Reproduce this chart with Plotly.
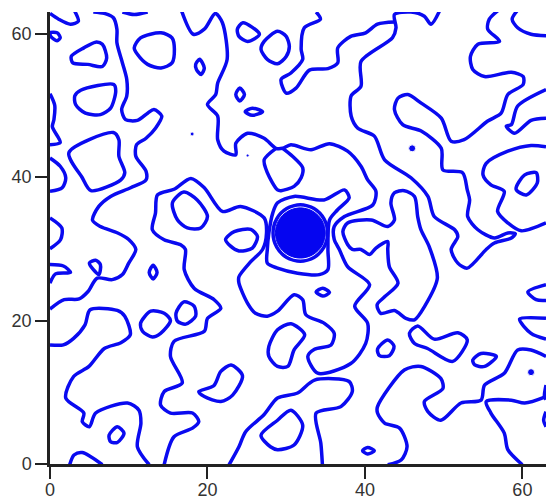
import plotly.graph_objects as go

BLUE = "#0a0af0"
top_left_hook = [(0,62.8),(1.1,62),(2.6,61.3),(3.6,61.7),(3.1,63.2)]
left_tiny_loop = [(0,60.1),(0.9,60.1),(1.3,59.4),(0.9,59),(0.1,59.6),(0,60.1)]
long_left = [(5.5,63),(6.9,62.8),(8.05,62.2),(8.5,60.6),(8.5,58.7),(9.2,55.9),(9.75,53.6),(9.75,51.3),(9.1,49.4),(9.6,48),(11.1,47.9),(12.4,48.9),(13.2,49.4),(14.2,48.5),(13.4,46.8),(12.2,45.4),(11,44.5),(10.9,42.9),(12.2,40.8),(12.2,39.6),(10.25,38.5),(7.7,37.3),(6.2,35.9),(5.4,34),(6.4,33.1),(8.6,32.2),(10,31.3),(10.9,29.9),(10,28),(9.2,26.4),(7.9,25.7),(6,25.9),(4.8,24),(3.7,23),(1.8,22.9),(0,21.6)]
loop_a = [(2.7,56.8),(2.9,55.9),(4.8,55.7),(6.65,55.4),(7.2,56.6),(6.65,58.5),(5.8,58.8),(4.3,58),(2.7,56.8)]
loop_b = [(10.7,58),(11.5,59.4),(14.1,60.1),(15.5,59.4),(15.8,57.8),(15.5,55.9),(14.1,55.2),(12.4,55.7),(11.1,57.1),(10.7,58)]
oval_c = [(19,56.4),(19.6,55.2),(19.2,54.3),(18.6,55),(18.5,55.7),(19,56.4)]
top_arc = [(9.2,63),(10.7,62.65),(12.4,63)]
path_b = [(29.55,44),(30.8,42.9),(32.1,41.3),(31.9,39.9),(31,38.7),(29.35,38.1),(28.9,38.2),(27.6,40.6),(27.2,42.4),(28.7,44)]
main_contour = [(16.7,63.2),(18.2,59.9),(19.6,60.6),(21,62.8),(21.9,61.5),(22.5,56.4),(21.3,53.1),(21.05,51.5),(20,50.1),(21.3,48.5),(21.3,45.2),(22.1,43.6),(23.6,43.1),(23.6,44.7),(25.1,46.1),(27.2,45.4),(28.7,44),(29.55,44),(30.6,44.5),(33.15,43.8),(35.5,44.65),(37.8,43.6),(39.5,41.5),(40.35,39.6),(41.4,38),(41,36.1),(37.4,34.5),(36.1,33.1),(36.1,31.3),(36.75,29.9),(37.8,27.5),(40.6,25),(38.7,22),(40.35,19.6),(40.1,16.8),(38.2,14),(34,12.65),(32.75,15),(33.6,16),(35.7,16.6),(36.1,18.2),(34.85,19.6),(32.5,20.8),(32.1,22.9),(31,23.6),(28.9,21.3),(27.6,20.6),(26.1,21),(25.1,22.4),(24,25.2),(24,26.1),(25.5,28.2),(27,29.9),(27.5,32.2),(27.2,34.3),(24.2,35.9),(21.9,35.2),(19.6,38.5),(17.9,39.8),(15.75,38.3),(13.65,37.5),(13.4,35),(13,32.65),(14.5,31.25),(16.6,30.55),(17.2,29.9),(17.05,27.1),(18.3,24.5),(20.85,22.9),(21.7,21.7),(20,20.3),(19.6,18.5),(15.75,17.1),(15.3,15),(16.8,11.3),(14.5,10.1),(14.05,8.2),(15.3,7.1),(18.1,7.1),(18.9,5.9),(18.1,5),(15.75,3.8),(14.5,-0.1)]
around_disc = [(28.9,36.4),(31,37.3),(34.8,36.8),(37.4,38.2),(38,37.1),(36.5,35.4),(35.5,34),(35.3,29.9),(35.3,27.1),(34.2,26.4),(31.45,26.6),(28.9,27.3),(27.6,28),(27.6,29.9),(27.8,32.2),(28.3,35),(28.9,36.4)]
right_of_disc = [(37.2,32.4),(37.8,33.6),(40.8,34),(42.9,33.1),(43.75,34),(43.3,36.4),(43.75,37.8),(45,38.1),(46.3,37.3),(46.7,34.5),(47.1,32.7),(48.2,30.2),(49.2,25.9),(47.6,22),(46.3,20.1),(45.2,20.3),(43.75,21.4),(42,21),(41.55,22.2),(42.5,23.3),(44.2,25.2),(43.1,27.5),(42.9,29.9),(42.9,31),(41.4,30.1),(40.6,29.2),(39.5,29.9),(38.4,29.9),(37.8,30.6),(37.2,32.4)]
upper_mid = [(33.8,63),(34.35,62),(32.3,60.8),(31.9,57.8),(32.1,56.4),(30.6,54.5),(29.35,53.6),(30,51.7),(31.25,52.4),(32.95,54.9),(35.3,55.1),(36.55,55.9),(36.55,58),(38.2,59.6),(40.1,60.1),(41.6,61.3),(43.75,61.6)]
loop_d = [(28.9,60.3),(30,59.6),(30.4,58.2),(30,56.8),(28.9,55.8),(27.6,56.4),(26.8,57.8),(27.2,58.9),(28.9,60.3)]
tri_e = [(23.8,60.6),(24.5,61.5),(26.6,59.9),(25.1,58.9),(24,59.6),(23.8,60.6)]
oval_f = [(24.1,52.4),(24.7,51.5),(24.1,50.6),(23.6,51.5),(24.1,52.4)]
oval_g = [(24.8,49.1),(25.7,49.6),(27,49.1),(25.7,48.6),(24.8,49.1)]
left_edge_a = [(0,51.6),(0.6,50),(0.5,48),(0.3,47),(1.3,44.8),(0,44.5)]
left_edge_b = [(0,42.65),(1.3,41.5),(2,39.9),(1.55,38.5),(0,38)]
left_edge_c = [(0,34.3),(1.5,32.9),(1.35,31.3),(0,30)]
rect_h = [(2.4,43.4),(8.05,46.2),(8.75,45.2),(8.75,42.9),(9.5,40.6),(9,39.6),(5.2,38.1),(4.1,39.9),(2.4,43.4)]
loop_i = [(3.15,51.3),(3.9,52.1),(8.1,52.9),(8.35,52),(7.7,49.6),(6.4,48.7),(4.5,48.9),(3.25,50.1),(3.15,51.3)]
oval_j = [(15.55,36.4),(17,37.9),(18.7,36.8),(20,34.5),(19.15,32.9),(17.45,32.9),(16.2,34),(15.55,36.4)]
oval_k = [(22.3,31.3),(23.4,32.4),(25.5,32.7),(26.35,31.7),(25.7,30.1),(24,29.7),(22.9,30.4),(22.3,31.3)]
right_long = [(49.5,63.2),(48.4,61.3),(47.55,62.4),(45.85,63),(43.75,62.65),(43.95,60.8),(43.5,59.4),(39.5,56.1),(39.5,52.65),(38.25,51.3),(38.25,48.5),(39.1,46.8),(41.2,45.7),(42.5,42.4),(45.85,39.9),(48,37.3),(48.8,34.5),(51.4,32.65),(51.8,31.7),(50.95,29.9),(51.8,28),(53,27.3),(55.4,29.9),(56.45,30.8),(58.6,31.5),(59.1,32.1),(58.15,32.2),(56.45,31.5),(54.35,32.65),(53.05,34.5),(53.3,36.8),(53,38.2),(52.4,40.6),(49.9,41),(49.7,44),(47.15,46.4),(44.8,47.3),(43.75,49.4),(44.2,51),(45.45,51.5),(47.15,50.3),(49.7,48.2),(50.95,45),(52.6,45.2),(55.6,47.8),(57.3,48.9),(58.15,51.5),(60.1,52.9),(60.1,54),(58.6,54.6),(55.2,54),(53.7,55),(53.4,56.8),(54.35,58.5),(57.1,58.9),(55.6,60.6),(55.8,62),(56.9,63.2)]
top_right_a = [(59.35,63.2),(58.7,62),(59.4,60.8),(61.1,59.9),(63,59.7)]
top_right_b = [(63,52.2),(59.4,49.9),(58.6,47.3),(57.95,47.1),(59,46.1),(61.1,47.9),(63,48.2)]
right_mid = [(63,44.2),(61.1,44.4),(58.15,43.6),(55.4,41.9),(55,40.3),(56,38.9),(57.7,38),(56.85,35.2),(58.15,33.6),(59.85,32.5),(63,33.6)]
oval_l = [(59.2,38.3),(60.3,40.3),(61.75,40.6),(61.9,39.2),(60.5,37.5),(59.2,38.3)]
left_low_a = [(0,27.8),(1.7,27.6),(2.6,26.7),(0.7,26.5),(0,25.2)]
loop_m = [(5,28),(5.8,28.4),(6.4,27.8),(6.2,26.4),(5,28)]
oval_n = [(13.1,27.7),(13.6,26.7),(13.1,25.8),(12.6,26.7),(13.1,27.7)]
low_left = [(0,16.6),(1.7,16.6),(3,17.5),(4.45,19.4),(5.1,21.5),(8.55,21.4),(9.5,20.6),(10.2,18),(9,16.9),(6.9,16.1),(4.95,13.6),(3,12.2),(2,9.2),(4.3,7.1),(4.1,5.9),(5,5.2),(5.8,7.1),(9.85,8.5),(11.3,7.5),(11.55,5.7),(11.1,2.4),(12.6,-0.1)]
oval_o = [(11.5,19.6),(12.8,21.3),(14.5,21),(15.3,20),(14.05,18.2),(13,17.7),(11.75,18.5),(11.5,19.6)]
oval_p = [(16,21),(17,22.6),(18.3,22),(18.5,20.6),(17.25,19.5),(16.2,19.9),(16,21)]
blob_q = [(18.9,10.1),(20.8,10.9),(21.7,12.9),(23,13.8),(24.45,12.3),(23.2,9.6),(21.7,8.7),(19.6,9.4),(18.9,10.1)]
oval_r = [(7.5,4),(8.55,5.2),(9.4,4.3),(8.55,3),(7.7,3.1),(7.5,4)]
bottom_s = [(2.5,-0.1),(3.05,1.25),(4.1,1.6),(6.65,-0.1)]
low_mid = [(22.75,-0.1),(24,2.4),(24.85,4.5),(27.2,6.9),(28.9,9.2),(31.45,9.9),(33.6,11.7),(38,11.5),(38.4,10.1),(36.95,8),(33.8,7.1),(34.4,2.9),(34.6,-0.1)]
loop_t = [(26.8,4),(28.9,6.1),(30.6,7.5),(32.1,5.4),(31,2.65),(28.9,2),(28,2.4),(26.8,4)]
loop_u = [(28.9,18.7),(30.6,19.55),(32.35,18),(31,15.9),(30.2,13.6),(28.9,13.6),(27.8,15),(27.8,16.4),(28.9,18.7)]
oval_v = [(33.8,24),(34.65,24.5),(35.5,23.9),(34.65,23.4),(33.8,24)]
oval_w = [(41.6,16),(42.9,17.3),(43.7,16.4),(43.1,15.1),(41.85,15.1),(41.6,16)]
loop_x = [(45.65,18.2),(46.7,19.25),(48.8,17.4),(51.8,18.3),(53,17.3),(51.15,14.3),(47.95,16.1),(46.3,16.8),(45.65,18.2)]
oval_y = [(53.7,14.5),(54.75,15.4),(56.7,15),(55.2,13.6),(53.95,13.8),(53.7,14.5)]
low_right = [(63,15),(61.1,15.9),(59.4,15.9),(57.7,12.65),(55.2,11),(54.75,8.9),(52.2,8.5),(49.65,6.1),(48,7.3),(47.55,8.7),(49.9,10.5),(49.65,11.9),(47.1,13.6),(45,13.1),(41.6,8),(41.6,7.1),(42.5,5.7),(44.4,5),(45.35,2.4),(44.6,0.55),(42.9,-0.1)]
low_right_b = [(60,-0.1),(58.15,2),(57.7,4.3),(56,7.1),(55.4,8.7),(58.6,8.9),(60.3,8.5),(63,9.4)]
edge_right_a = [(63,25),(60.7,24),(61.75,22.9),(63,22.8)]
edge_right_b = [(63,20.3),(59.65,20.2),(61.1,18.2),(63,17.4)]
edge_right_c = [(63,11),(62.8,9.4),(63,9)]
edge_right_d = [(63,7.3),(62.7,6.1),(63,5.2)]
oval_z = [(39.7,1.85),(40.35,2.3),(41.2,1.85),(40.35,1.4),(39.7,1.85)]
centre_ring = [(35.27,32.2),(34.8,34.18),(33.53,35.62),(31.8,36.15),(30.07,35.62),(28.8,34.18),(28.33,32.2),(28.8,30.22),(30.07,28.78),(31.8,28.25),(33.53,28.78),(34.8,30.22),(35.27,32.2)]
centre_disc = [(34.97,32.2),(34.55,33.95),(33.38,35.23),(31.8,35.7),(30.22,35.23),(29.05,33.95),(28.63,32.2),(29.05,30.45),(30.22,29.17),(31.8,28.7),(33.38,29.17),(34.55,30.45),(34.97,32.2)]
dot_x = [18.05, 25.1, 46, 61.1]
dot_y = [46, 43, 44, 12.8]
dot_size = [4, 3, 7, 7]
tick_vals = [0, 20, 40, 60]

contours = [top_left_hook,left_tiny_loop,long_left,loop_a,loop_b,oval_c,top_arc,path_b,main_contour,around_disc,right_of_disc,upper_mid,loop_d,tri_e,oval_f,oval_g,left_edge_a,left_edge_b,left_edge_c,rect_h,loop_i,oval_j,oval_k,right_long,top_right_a,top_right_b,right_mid,oval_l,left_low_a,loop_m,oval_n,low_left,oval_o,oval_p,blob_q,oval_r,bottom_s,low_mid,loop_t,loop_u,oval_v,oval_w,loop_x,oval_y,low_right,low_right_b,edge_right_a,edge_right_b,edge_right_c,edge_right_d,oval_z,centre_ring]

fig = go.Figure()
for c in contours:
    fig.add_trace(go.Scatter(x=[p[0] for p in c], y=[p[1] for p in c], mode="lines",
                             line=dict(color=BLUE, width=3.5, shape="spline", smoothing=0.8),
                             hoverinfo="skip"))
fig.add_trace(go.Scatter(x=[p[0] for p in centre_disc], y=[p[1] for p in centre_disc], mode="lines",
                         fill="toself", fillcolor="#0505f0",
                         line=dict(color="#0505f0", width=1, shape="spline"), hoverinfo="skip"))
fig.add_trace(go.Scatter(x=dot_x, y=dot_y, mode="markers",
                         marker=dict(color=BLUE, size=dot_size, opacity=1), hoverinfo="skip"))

axis = dict(range=[0, 63], tickmode="array", tickvals=tick_vals, ticks="outside", ticklen=12, tickwidth=2,
            tickcolor="#222222", showline=True, linewidth=2.5, linecolor="#222222", showgrid=False,
            zeroline=False, automargin=False, tickfont=dict(family="Liberation Sans", size=18, color="#333333"))
fig.update_layout(width=554, height=500, showlegend=False, plot_bgcolor="white", paper_bgcolor="white",
                  margin=dict(l=49.5, r=8.4, t=12, b=36), xaxis=axis, yaxis=axis)
fig.update_xaxes(ticklabelstandoff=-4)
fig.write_html("out.html", post_script="document.body.style.margin='0';", config={"displayModeBar": False})
